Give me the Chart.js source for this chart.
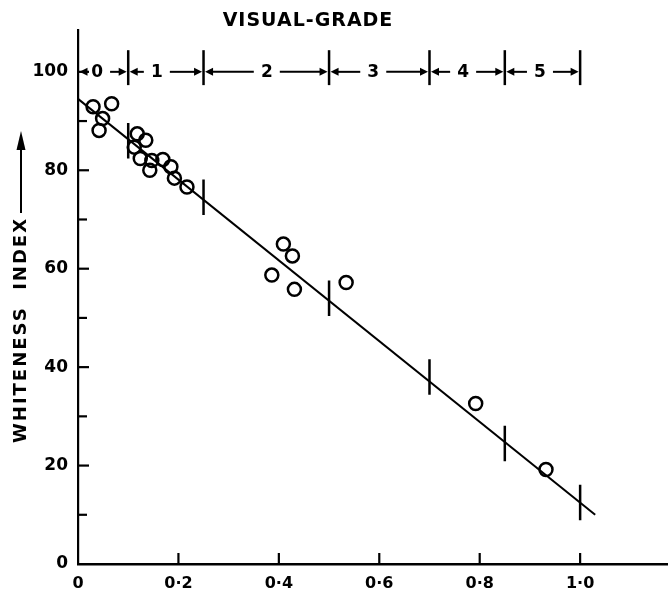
<!DOCTYPE html>
<html>
<head>
<meta charset="utf-8">
<script src="https://cdn.jsdelivr.net/npm/chart.js@4.4.1/dist/chart.umd.min.js"></script>
<style>
html,body{margin:0;padding:0;background:#fff;overflow:hidden;}
#wrap{width:668px;height:592px;position:relative;}
canvas{display:block;}
</style>
</head>
<body>
<div id="wrap"><canvas id="c" width="668" height="592"></canvas></div>
<script>
// ---- data ----
const xTicks = [0, 0.2, 0.4, 0.6, 0.8, 1.0];
const xTickLabels = ['0', '0·2', '0·4', '0·6', '0·8', '1·0'];
const xMarkTicks = [0.2, 0.4, 0.6, 0.8, 1.0];
const yTicks = [0, 20, 40, 60, 80, 100];
const yMinorTicks = [10, 30, 50, 70, 90];

const sampleX = [0.030, 0.067, 0.049, 0.042, 0.118, 0.135, 0.112, 0.124, 0.147, 0.143, 0.169, 0.185, 0.192, 0.217,
                 0.409, 0.427, 0.386, 0.431, 0.534, 0.792, 0.932];
const sampleY = [92.9, 93.5, 90.5, 88.1, 87.4, 86.1, 84.7, 82.4, 82.0, 80.0, 82.2, 80.7, 78.4, 76.6,
                 65.0, 62.6, 58.7, 55.8, 57.2, 32.6, 19.2];

const fitX = [0, 1.03];
const fitY = [94.5, 10.0];

const gradeBounds = [0.1, 0.25, 0.5, 0.7, 0.85, 1.0];
const gradeBarCentres = [86.0, 74.5, 54.0, 38.0, 24.5, 12.5];
const gradeBarHalf = 3.6;
const gradeNames = ['0', '1', '2', '3', '4', '5'];
const gradeLabelX = [0.038, 0.157, 0.376, 0.588, 0.767, 0.920];
const gradeArrowY = 100;
const gradeMarkTop = 104.4;
const gradeMarkBottom = 97.3;

// ---- build datasets ----
const samplePts = sampleX.map((x, i) => ({x: x, y: sampleY[i]}));
const fitPts = fitX.map((x, i) => ({x: x, y: fitY[i]}));
const barPts = [];
gradeBounds.forEach((b, i) => {
  barPts.push({x: b, y: gradeBarCentres[i] - gradeBarHalf});
  barPts.push({x: b, y: gradeBarCentres[i] + gradeBarHalf});
  barPts.push({x: b, y: null});
});

const FONT = 'DejaVu Sans';

const decor = {
  id: 'decor',
  afterDraw(chart) {
    const ctx = chart.ctx;
    const xs = chart.scales.x, ys = chart.scales.y;
    const ca = chart.chartArea;
    ctx.save();
    ctx.strokeStyle = '#000';
    ctx.fillStyle = '#000';
    ctx.lineCap = 'butt';
    ctx.lineWidth = 2.2;
    yTicks.forEach(v => {
      if (v === 0) return;
      const y = ys.getPixelForValue(v);
      ctx.beginPath(); ctx.moveTo(ca.left, y); ctx.lineTo(ca.left + 11, y); ctx.stroke();
    });
    yMinorTicks.forEach(v => {
      const y = ys.getPixelForValue(v);
      ctx.beginPath(); ctx.moveTo(ca.left, y); ctx.lineTo(ca.left + 9, y); ctx.stroke();
    });
    xMarkTicks.forEach(v => {
      const x = xs.getPixelForValue(v);
      ctx.beginPath(); ctx.moveTo(x, ca.bottom); ctx.lineTo(x, ca.bottom - 11); ctx.stroke();
    });

    const ya = ys.getPixelForValue(gradeArrowY);
    const yt = ys.getPixelForValue(gradeMarkTop);
    const yb = ys.getPixelForValue(gradeMarkBottom);
    ctx.lineWidth = 2.5;
    gradeBounds.forEach(b => {
      const x = xs.getPixelForValue(b);
      ctx.beginPath(); ctx.moveTo(x, yt); ctx.lineTo(x, yb); ctx.stroke();
    });
    const head = (tipX, dir) => {
      ctx.beginPath();
      ctx.moveTo(tipX, ya);
      ctx.lineTo(tipX - dir * 8, ya - 4);
      ctx.lineTo(tipX - dir * 8, ya + 4);
      ctx.closePath();
      ctx.fill();
    };
    ctx.lineWidth = 2;
    ctx.font = 'bold 17px "' + FONT + '"';
    ctx.textAlign = 'center';
    ctx.textBaseline = 'middle';
    const gap = 13;
    gradeNames.forEach((name, i) => {
      const L = xs.getPixelForValue(i === 0 ? 0 : gradeBounds[i - 1]) + 1.5;
      const R = xs.getPixelForValue(gradeBounds[i]) - 1.5;
      const c = xs.getPixelForValue(gradeLabelX[i]);
      ctx.fillText(name, c, ya + 1);
      ctx.beginPath(); ctx.moveTo(c - gap, ya); ctx.lineTo(L + 6, ya); ctx.stroke();
      head(L, -1);
      ctx.beginPath(); ctx.moveTo(c + gap, ya); ctx.lineTo(R - 6, ya); ctx.stroke();
      head(R, 1);
    });

    ctx.save();
    ctx.font = 'bold 19px "' + FONT + '"';
    try { ctx.letterSpacing = '1px'; } catch (e) {}
    ctx.fillText('VISUAL-GRADE', 308, 21);
    ctx.restore();

    ctx.save();
    ctx.translate(21, 330);
    ctx.rotate(-Math.PI / 2);
    ctx.font = 'bold 18px "' + FONT + '"';
    ctx.textAlign = 'center';
    ctx.textBaseline = 'middle';
    try { ctx.letterSpacing = '2px'; } catch (e) {}
    ctx.fillText('WHITENESS  INDEX', 0, 0);
    ctx.restore();
    ctx.lineWidth = 2;
    ctx.beginPath(); ctx.moveTo(21, 213); ctx.lineTo(21, 146); ctx.stroke();
    ctx.beginPath(); ctx.moveTo(21, 131); ctx.lineTo(16.5, 150); ctx.lineTo(25.5, 150); ctx.closePath(); ctx.fill();
    ctx.restore();
  }
};

new Chart(document.getElementById('c'), {
  type: 'scatter',
  data: {
    datasets: [
      {
        label: 'samples',
        data: samplePts,
        pointStyle: 'circle',
        pointRadius: 6.5,
        pointBorderWidth: 2.5,
        pointBorderColor: '#000',
        pointBackgroundColor: 'rgba(0,0,0,0)',
        showLine: false
      },
      {
        label: 'fit',
        data: fitPts,
        showLine: true,
        borderColor: '#000',
        borderWidth: 2,
        pointRadius: 0
      },
      {
        label: 'grade marks',
        data: barPts,
        showLine: true,
        spanGaps: false,
        borderColor: '#000',
        borderWidth: 2.5,
        pointRadius: 0
      }
    ]
  },
  options: {
    responsive: false,
    animation: false,
    devicePixelRatio: 1,
    layout: {autoPadding: false, padding: {top: 30, right: 0, bottom: 0, left: 0}},
    plugins: {
      legend: {display: false},
      tooltip: {enabled: false},
      title: {display: false}
    },
    scales: {
      x: {
        type: 'linear',
        min: 0,
        max: 1.175,
        afterBuildTicks: s => { s.ticks = xTicks.map(v => ({value: v})); },
        afterFit: s => { s.height = 28; s.paddingLeft = 0; s.paddingRight = 0; },
        grid: {display: false, drawTicks: false},
        border: {display: true, color: '#000', width: 2.5},
        ticks: {
          color: '#000',
          padding: 10,
          maxRotation: 0,
          autoSkip: false,
          font: {family: FONT, size: 16, weight: 'bold'},
          callback: (v) => { const i = xTicks.indexOf(v); return i >= 0 ? xTickLabels[i] : ''; }
        }
      },
      y: {
        type: 'linear',
        min: 0,
        max: 108.5,
        afterBuildTicks: s => { s.ticks = yTicks.map(v => ({value: v})); },
        afterFit: s => { s.width = 78; s.paddingTop = 0; s.paddingBottom = 0; },
        grid: {display: false, drawTicks: false},
        border: {display: true, color: '#000', width: 2.2},
        ticks: {
          color: '#000',
          padding: 10,
          autoSkip: false,
          font: {family: FONT, size: 17, weight: 'bold'}
        }
      }
    }
  },
  plugins: [decor]
});
</script>
</body>
</html>
